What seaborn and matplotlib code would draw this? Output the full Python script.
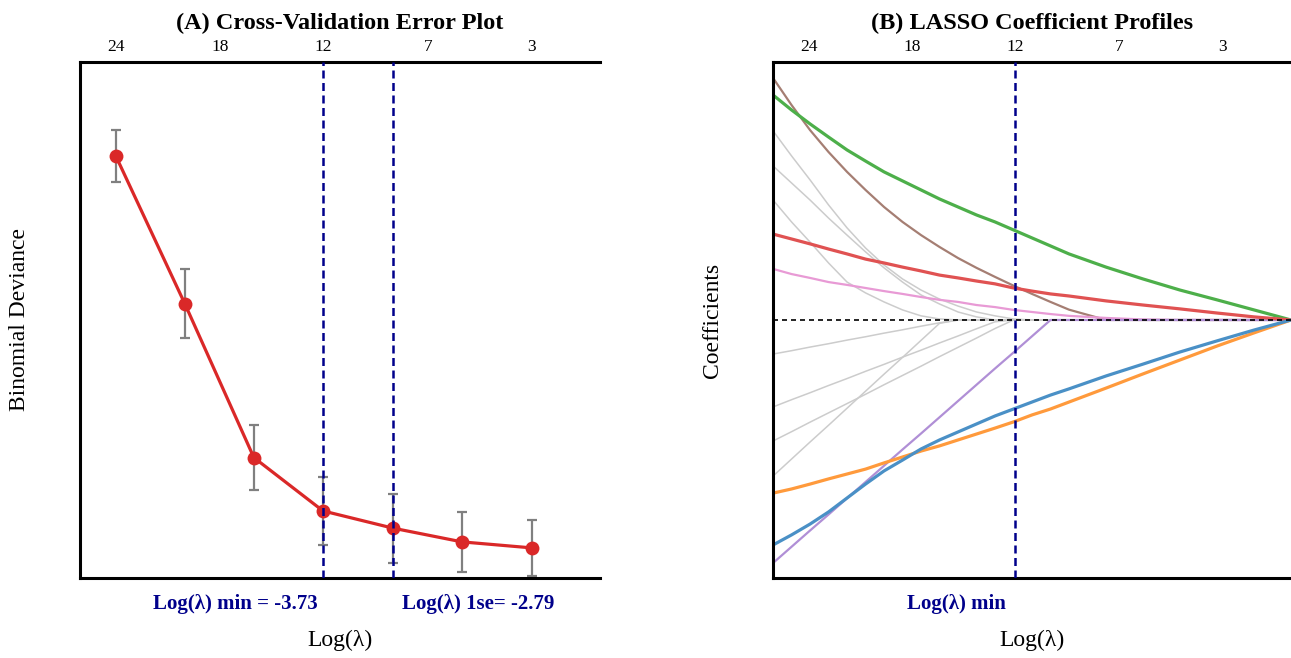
import matplotlib
matplotlib.use("Agg")
import matplotlib.pyplot as plt
import seaborn as sns

# ---- panel A: cross-validation curve ----
cv_log_lambda = [-6.52, -5.59, -4.66, -3.73, -2.79, -1.86, -0.92]
cv_deviance = [1.291, 1.119, 0.940, 0.878, 0.858, 0.842, 0.835]
cv_se = [0.030, 0.040, 0.038, 0.040, 0.040, 0.035, 0.033]
lambda_min = -3.73
lambda_1se = -2.79

# number of non-zero coefficients shown on the top axis
df_tick_pos = [-6.52, -5.12, -3.73, -2.32, -0.92]
df_tick_labels = ["24", "18", "12", "7", "3"]

# ---- panel B: coefficient paths ----
path_log_lambda = [-7.0, -6.75, -6.5, -6.25, -6.0, -5.75, -5.5, -5.25, -5.0,
                   -4.75, -4.5, -4.25, -4.0, -3.75, -3.5, -3.25, -3.0,
                   -2.5, -2.0, -1.5, -1.0, -0.5, 0.0]
coef_green = [0.872, 0.814, 0.760, 0.709, 0.659, 0.616, 0.574, 0.539, 0.504,
              0.469, 0.438, 0.407, 0.380, 0.349, 0.318, 0.287, 0.256,
              0.205, 0.159, 0.116, 0.078, 0.039, 0.0]
coef_brown = [0.938, 0.833, 0.736, 0.651, 0.574, 0.504, 0.438, 0.380, 0.329,
              0.283, 0.240, 0.202, 0.167, 0.133, 0.101, 0.070, 0.040,
              0.0, 0.0, 0.0, 0.0, 0.0, 0.0]
coef_red = [0.333, 0.314, 0.295, 0.275, 0.256, 0.236, 0.221, 0.205, 0.190,
            0.174, 0.163, 0.151, 0.140, 0.124, 0.112, 0.101, 0.093,
            0.074, 0.058, 0.043, 0.027, 0.012, 0.0]
coef_pink = [0.198, 0.178, 0.163, 0.147, 0.136, 0.124, 0.112, 0.101, 0.089,
             0.078, 0.070, 0.058, 0.050, 0.039, 0.031, 0.023, 0.016,
             0.008, 0.002, 0.0, 0.0, 0.0, 0.0]
coef_blue = [-0.872, -0.833, -0.791, -0.744, -0.690, -0.636, -0.585, -0.543, -0.500,
             -0.465, -0.434, -0.403, -0.372, -0.345, -0.318, -0.291, -0.267,
             -0.217, -0.171, -0.124, -0.081, -0.039, 0.0]
coef_orange = [-0.671, -0.655, -0.636, -0.616, -0.597, -0.578, -0.554, -0.531, -0.508,
               -0.488, -0.465, -0.442, -0.419, -0.395, -0.368, -0.345, -0.318,
               -0.264, -0.209, -0.155, -0.101, -0.050, 0.0]
coef_purple = [-0.942, -0.879, -0.816, -0.754, -0.691, -0.628, -0.565, -0.502, -0.440,
               -0.377, -0.314, -0.251, -0.188, -0.126, -0.063, 0.0, 0.0,
               0.0, 0.0, 0.0, 0.0, 0.0, 0.0]
coef_gray = [
    [0.733, 0.636, 0.543, 0.446, 0.357, 0.279, 0.213, 0.159, 0.116,
     0.081, 0.054, 0.031, 0.016, 0.004, 0.0, 0.0, 0.0,
     0.0, 0.0, 0.0, 0.0, 0.0, 0.0],
    [0.597, 0.531, 0.465, 0.395, 0.329, 0.264, 0.202, 0.147, 0.097,
     0.062, 0.031, 0.012, 0.0, 0.0, 0.0, 0.0, 0.0,
     0.0, 0.0, 0.0, 0.0, 0.0, 0.0],
    [0.465, 0.380, 0.302, 0.221, 0.147, 0.105, 0.070, 0.039, 0.016,
     0.004, 0.0, 0.0, 0.0, 0.0, 0.0, 0.0, 0.0,
     0.0, 0.0, 0.0, 0.0, 0.0, 0.0],
    [-0.132, -0.119, -0.105, -0.092, -0.078, -0.065, -0.051, -0.038, -0.024,
     -0.011, 0.0, 0.0, 0.0, 0.0, 0.0, 0.0, 0.0,
     0.0, 0.0, 0.0, 0.0, 0.0, 0.0],
    [-0.337, -0.309, -0.282, -0.254, -0.227, -0.199, -0.172, -0.144, -0.117,
     -0.089, -0.062, -0.034, -0.007, 0.0, 0.0, 0.0, 0.0,
     0.0, 0.0, 0.0, 0.0, 0.0, 0.0],
    [-0.469, -0.433, -0.396, -0.360, -0.324, -0.288, -0.251, -0.215, -0.179,
     -0.142, -0.106, -0.070, -0.033, 0.0, 0.0, 0.0, 0.0,
     0.0, 0.0, 0.0, 0.0, 0.0, 0.0],
    [-0.605, -0.539, -0.473, -0.408, -0.342, -0.276, -0.210, -0.145, -0.079,
     -0.013, 0.0, 0.0, 0.0, 0.0, 0.0, 0.0, 0.0,
     0.0, 0.0, 0.0, 0.0, 0.0, 0.0],
]

sns.set_theme(style="white")
plt.rcParams["font.family"] = ["Liberation Serif", "DejaVu Serif"]
plt.rcParams["text.color"] = "black"
plt.rcParams["axes.labelcolor"] = "black"
plt.rcParams["axes.titlecolor"] = "black"

fig = plt.figure(figsize=(12.91, 6.58), dpi=100)
ax1 = fig.add_axes([0.062, 0.1216, 0.4028, 0.7842])
ax2 = fig.add_axes([0.5988, 0.1216, 0.4012, 0.7842])

navy = "#00008B"


def style_axes(ax, ylabel):
    ax.set_xlim(-7, 0)
    for side in ["left", "top", "bottom"]:
        ax.spines[side].set_color("black")
        ax.spines[side].set_linewidth(2.2)
    ax.spines["right"].set_visible(False)
    ax.set_yticks([])
    ax.xaxis.tick_top()
    ax.set_xticks(df_tick_pos)
    ax.set_xticklabels(df_tick_labels, fontsize=12.5)
    ax.tick_params(axis="x", length=0, pad=5, colors="black")
    ax.set_xlabel("Log(λ)", fontsize=17, color="black")
    ax.xaxis.set_label_position("bottom")
    ax.xaxis.set_label_coords(0.5, -0.1)
    ax.set_ylabel(ylabel, fontsize=17, labelpad=36, color="black")


# panel A
ax1.errorbar(cv_log_lambda, cv_deviance, yerr=cv_se, fmt="none",
             ecolor="#808080", elinewidth=1.6, capsize=3.8, capthick=1.6, zorder=2)
sns.lineplot(x=cv_log_lambda, y=cv_deviance, ax=ax1, color="#DA2828",
             linewidth=2.3, marker="o", markersize=10, markeredgewidth=0,
             zorder=3)
for v in [lambda_min, lambda_1se]:
    ax1.axvline(v, color=navy, linewidth=1.8, dashes=(3.2, 1.8), zorder=4)
ax1.set_ylim(0.8, 1.4)
style_axes(ax1, "Binomial Deviance")
ax1.set_title("(A) Cross-Validation Error Plot", fontsize=17.5,
              fontweight="bold", pad=7, color="black")
ax1.text(lambda_min - 0.07, -0.05, "Log(λ) min = -3.73", transform=ax1.get_xaxis_transform(),
         ha="right", va="center", color=navy, fontsize=15, fontweight="bold")
ax1.text(lambda_1se + 0.12, -0.05, "Log(λ) 1se= -2.79", transform=ax1.get_xaxis_transform(),
         ha="left", va="center", color=navy, fontsize=15, fontweight="bold")

# panel B
for g in coef_gray:
    sns.lineplot(x=path_log_lambda, y=g, ax=ax2, color="#CCCCCC",
                 linewidth=1.1, zorder=1)
colored = [
    (coef_brown, "#A57E73", 1.6),
    (coef_pink, "#E89AD5", 1.6),
    (coef_purple, "#B08FD6", 1.6),
    (coef_green, "#4DAF4A", 2.3),
    (coef_red, "#E05252", 2.3),
    (coef_orange, "#FF9A3C", 2.3),
    (coef_blue, "#4A90C6", 2.3),
]
for vals, col, lw in colored:
    sns.lineplot(x=path_log_lambda, y=vals, ax=ax2, color=col,
                 linewidth=lw, zorder=2)
ax2.axhline(0, color="black", linewidth=1.2, dashes=(3, 2.4), zorder=3)
ax2.axvline(lambda_min, color=navy, linewidth=1.8, dashes=(3.2, 1.8), zorder=4)
ax2.set_ylim(-1, 1)
style_axes(ax2, "Coefficients")
ax2.set_title("(B) LASSO Coefficient Profiles", fontsize=17.5,
              fontweight="bold", pad=7, color="black")
ax2.text(lambda_min - 0.12, -0.05, "Log(λ) min", transform=ax2.get_xaxis_transform(),
         ha="right", va="center", color=navy, fontsize=15, fontweight="bold")

fig.savefig("out.png", dpi=100)
